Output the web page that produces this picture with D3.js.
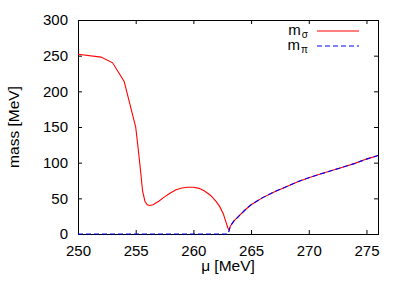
<!DOCTYPE html>
<html>
<head>
<meta charset="utf-8">
<script src="https://cdn.jsdelivr.net/npm/d3@7"></script>
<style>
  body { margin: 0; background: #fff; }
  text { font-family: "Liberation Sans", Arial, sans-serif; }
</style>
</head>
<body>
<svg width="407" height="285"></svg>
<script>
// chemical potential mu [MeV]
const MU = [250, 252, 253, 254, 255, 255.2, 255.4, 255.6, 255.8, 256, 256.2, 256.5, 257, 257.5, 258, 258.5,
    259, 259.5, 260, 260.5, 261, 261.5, 262, 262.3, 262.6, 262.8, 263, 263.1, 263.2, 263.5, 264, 264.5,
    265, 266, 267, 268, 269, 270, 271, 272, 273, 274, 275, 276];
// sigma mass [MeV]
const M_SIGMA = [252, 248, 240, 214, 150, 122, 92, 60, 46, 41, 40, 41, 46, 52, 57.5, 62,
    64.5, 65.5, 65.5, 64, 60, 54, 45, 38, 28, 18, 8, 5, 11, 18, 26, 34,
    41, 51, 59, 66, 73, 79, 84, 89, 94, 99, 105, 110];
// pion mass [MeV]
const M_PI = [0, 0, 0, 0, 0, 0, 0, 0, 0, 0, 0, 0, 0, 0, 0, 0,
    0, 0, 0, 0, 0, 0, 0, 0, 0, 0, 0, 5, 11, 18, 26, 34,
    41, 51, 59, 66, 73, 79, 84, 89, 94, 99, 105, 110];

const X_TICKS = [250, 255, 260, 265, 270, 275];
const Y_TICKS = [0, 50, 100, 150, 200, 250, 300];

const MARGINS = {top: 20, right: 29, bottom: 51, left: 78};
const WIDTH = 407, HEIGHT = 285;
const PW = WIDTH - MARGINS.left - MARGINS.right;
const PH = HEIGHT - MARGINS.top - MARGINS.bottom;

const x = d3.scaleLinear().domain([250, 276]).range([0, PW]);
const y = d3.scaleLinear().domain([0, 300]).range([PH, 0]);

const svg = d3.select('svg');
const chart = svg.append('g').attr('transform', `translate(${MARGINS.left}, ${MARGINS.top})`);

// axes, ticks pointing inward like gnuplot
const styleAxis = g => {
    g.select('.domain').remove();
    g.selectAll('line').attr('stroke', '#000');
    g.selectAll('text').attr('font-size', 15).attr('fill', '#000')
        .style('font-family', '"Liberation Sans", Arial, sans-serif');
};
chart.append('g').attr('transform', `translate(0, ${PH})`)
    .call(d3.axisBottom(x).tickValues(X_TICKS).tickSize(-4).tickPadding(11)).call(styleAxis);
chart.append('g')
    .call(d3.axisTop(x).tickValues(X_TICKS).tickSize(-4).tickFormat('')).call(styleAxis);
chart.append('g')
    .call(d3.axisLeft(y).tickValues(Y_TICKS).tickSize(-4).tickPadding(10)).call(styleAxis);
chart.append('g').attr('transform', `translate(${PW}, 0)`)
    .call(d3.axisRight(y).tickValues(Y_TICKS).tickSize(-4).tickFormat('')).call(styleAxis);

// border
chart.append('rect')
    .attr('x', 0.5).attr('y', 0.5).attr('width', PW).attr('height', PH)
    .attr('fill', 'none').attr('stroke', '#000');

const idx = d3.range(MU.length);
const sigmaLine = d3.line().x(i => x(MU[i])).y(i => y(M_SIGMA[i]));
const piLine = d3.line().x(i => x(MU[i])).y(i => y(M_PI[i]));

chart.append('path').attr('d', sigmaLine(idx))
    .attr('fill', 'none').attr('stroke', '#ff0000').attr('stroke-width', 1.1);
chart.append('path').attr('d', piLine(idx))
    .attr('fill', 'none').attr('stroke', '#0000ff').attr('stroke-width', 1.1)
    .attr('stroke-dasharray', '5,3');

// axis titles
svg.append('text').attr('x', MARGINS.left + PW / 2).attr('y', 271)
    .attr('text-anchor', 'middle').attr('font-size', 15.5).text('μ [MeV]');
svg.append('text').attr('transform', `translate(19, ${MARGINS.top + PH / 2}) rotate(-90)`)
    .attr('text-anchor', 'middle').attr('font-size', 15.5).text('mass [MeV]');

// legend
const LEGEND = [
    {label: 'm', sub: 'σ', color: '#ff0000', dash: 'none'},
    {label: 'm', sub: 'π', color: '#0000ff', dash: '5,3'}
];
const leg = svg.append('g');
LEGEND.forEach((d, i) => {
    const cy = 31 + i * 15;
    const t = leg.append('text').attr('x', 308).attr('y', cy + 4)
        .attr('text-anchor', 'end').attr('font-size', 15);
    t.append('tspan').text(d.label);
    t.append('tspan').attr('font-size', 10).attr('dx', 1).attr('dy', 3).text(d.sub);
    leg.append('path').attr('d', `M317,${cy}H359`)
        .style('fill', 'none').style('stroke', d.color).style('stroke-width', 1.2)
        .style('stroke-dasharray', d.dash);
});
</script>
</body>
</html>
